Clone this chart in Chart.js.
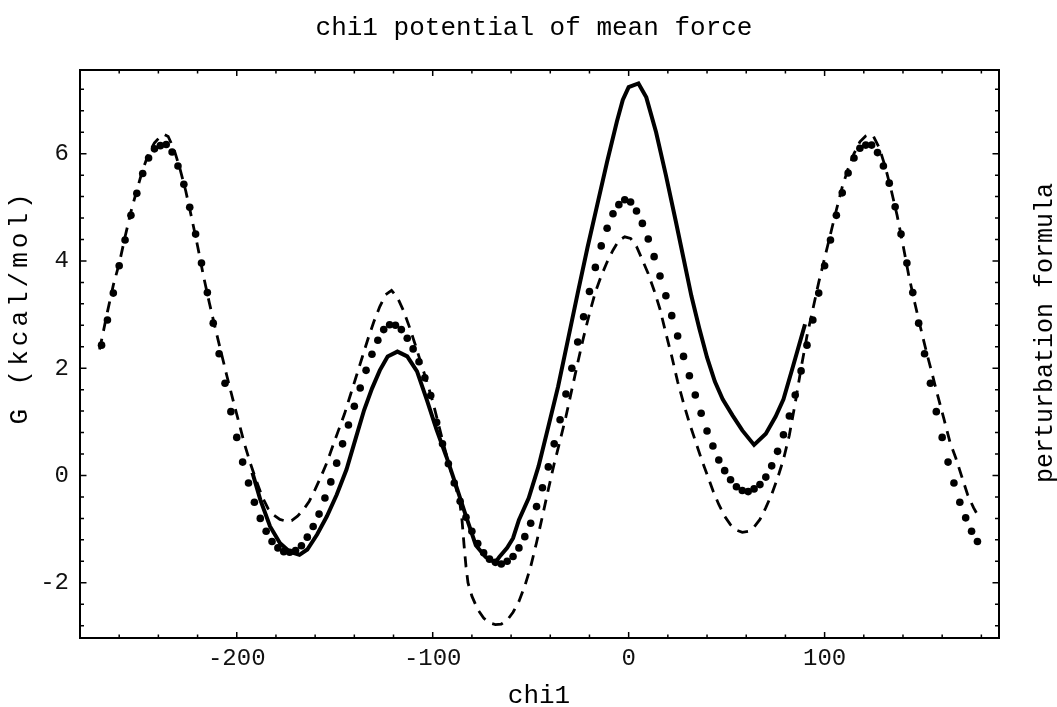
<!DOCTYPE html>
<html>
<head>
<meta charset="utf-8">
<script src="https://cdn.jsdelivr.net/npm/chart.js@4.4.1/dist/chart.umd.min.js"></script>
<style>
  html, body { margin: 0; padding: 0; background: #fff; }
</style>
</head>
<body>
<canvas id="pmfChart" width="1057" height="707"></canvas>
<script>
// perturbation formula (dots, every 3 degrees)
var dotChi = [-269,-266,-263,-260,-257,-254,-251,-248,-245,-242,-239,-236,-233,-230,-227,-224,-221,-218,-215,-212,
  -209,-206,-203,-200,-197,-194,-191,-188,-185,-182,-179,-176,-173,-170,-167,-164,-161,-158,-155,-152,
  -149,-146,-143,-140,-137,-134,-131,-128,-125,-122,-119,-116,-113,-110,-107,-104,-101,-98,-95,-92,
  -89,-86,-83,-80,-77,-74,-71,-68,-65,-62,-59,-56,-53,-50,-47,-44,-41,-38,-35,-32,
  -29,-26,-23,-20,-17,-14,-11,-8,-5,-2,1,4,7,10,13,16,19,22,25,28,
  31,34,37,40,43,46,49,52,55,58,61,64,67,70,73,76,79,82,85,88,
  91,94,97,100,103,106,109,112,115,118,121,124,127,130,133,136,139,142,145,148,
  151,154,157,160,163,166,169,172,175,178];
var dotG = [2.43,2.90,3.40,3.91,4.39,4.85,5.26,5.63,5.92,6.09,6.15,6.17,6.03,5.77,5.43,5.00,4.50,3.96,3.41,2.84,
  2.27,1.72,1.19,0.71,0.25,-0.14,-0.50,-0.80,-1.04,-1.23,-1.35,-1.42,-1.43,-1.40,-1.31,-1.15,-0.95,-0.72,-0.42,-0.12,
  0.23,0.59,0.94,1.29,1.63,1.96,2.26,2.52,2.72,2.81,2.80,2.72,2.56,2.36,2.12,1.82,1.49,0.99,0.59,0.22,
  -0.14,-0.48,-0.78,-1.04,-1.27,-1.44,-1.56,-1.62,-1.65,-1.60,-1.51,-1.35,-1.14,-0.89,-0.58,-0.23,0.16,0.59,1.04,1.52,
  2.00,2.49,2.96,3.43,3.88,4.28,4.61,4.88,5.05,5.14,5.10,4.93,4.70,4.41,4.08,3.72,3.35,2.98,2.60,2.22,
  1.86,1.50,1.16,0.83,0.55,0.29,0.09,-0.08,-0.21,-0.28,-0.30,-0.25,-0.17,-0.03,0.18,0.45,0.76,1.11,1.50,1.95,
  2.43,2.90,3.40,3.91,4.39,4.85,5.27,5.64,5.92,6.10,6.16,6.16,6.02,5.77,5.45,5.01,4.50,3.96,3.41,2.84,
  2.27,1.72,1.19,0.71,0.25,-0.14,-0.50,-0.79,-1.04,-1.23];

// dashed curve
var dashChi = [-270,-266,-263,-260,-257,-254,-251,-248,-245,-242,-239,-237,-235,-232,-229,-226,-223,-220,-217,-214,
  -211,-208,-205,-202,-199,-196,-193,-190,-187,-184,-181,-178,-175,-172,-169,-166,-163,-160,-157,-154,
  -151,-148,-145,-142,-139,-136,-133,-130,-127,-124,-121,-118,-115,-112,-109,-106,-103,-100,-97,-94,
  -91,-88,-86,-85,-84,-83,-82,-80,-77,-74,-71,-68,-65,-62,-59,-56,-53,-50,-47,-44,
  -41,-38,-35,-32,-29,-26,-23,-20,-17,-14,-11,-8,-5,-2,1,4,7,10,13,16,
  19,22,25,28,31,34,37,40,43,46,49,52,55,58,61,64,67,70,73,76,
  79,82,85,88,91,94,97,100,103,106,109,112,115,118,121,123,125,128,131,134,
  137,140,143,146,149,152,155,158,161,164,167,170,173,176,178];
var dashG = [2.35,3.05,3.55,3.95,4.45,4.92,5.32,5.70,6.00,6.20,6.32,6.36,6.32,6.08,5.72,5.30,4.80,4.28,3.72,3.22,
  2.75,2.30,1.85,1.42,1.00,0.58,0.22,-0.10,-0.40,-0.62,-0.74,-0.82,-0.85,-0.84,-0.76,-0.64,-0.48,-0.26,-0.02,0.24,
  0.55,0.85,1.15,1.50,1.85,2.20,2.55,2.87,3.15,3.37,3.45,3.32,3.08,2.78,2.45,2.10,1.75,1.38,0.95,0.52,
  0.12,-0.25,-0.55,-0.85,-1.30,-1.70,-2.00,-2.25,-2.50,-2.66,-2.75,-2.78,-2.77,-2.70,-2.55,-2.35,-2.06,-1.70,-1.25,-0.76,
  -0.26,0.22,0.65,1.10,1.60,2.10,2.58,3.02,3.42,3.72,3.98,4.20,4.38,4.45,4.42,4.27,4.02,3.76,3.45,3.10,
  2.65,2.22,1.75,1.35,0.98,0.65,0.32,0.02,-0.28,-0.54,-0.76,-0.92,-1.02,-1.06,-1.04,-0.96,-0.82,-0.60,-0.35,-0.05,
  0.30,0.75,1.35,2.00,2.60,3.10,3.60,4.05,4.50,4.95,5.38,5.72,6.00,6.22,6.33,6.36,6.32,6.10,5.75,5.32,
  4.85,4.30,3.72,3.22,2.75,2.30,1.88,1.45,1.04,0.62,0.32,-0.02,-0.36,-0.60,-0.73];

// solid curve
var solidChi = [-192,-188,-183,-178,-173,-168,-164,-159,-154,-149,-144,-139,-135,-131,-127,-123,-118,-113,-108,-103,
  -98,-93,-88,-83,-78,-73,-68,-66,-62,-59,-56,-51,-46,-41,-36,-31,-26,-21,-16,-11,
  -6,-3,0,5,9,14,19,24,28,32,36,40,44,48,53,58,64,70,75,79,84,90];
var solidG = [0.05,-0.45,-0.95,-1.26,-1.42,-1.48,-1.38,-1.10,-0.76,-0.36,0.11,0.73,1.22,1.62,1.96,2.22,2.31,2.22,1.94,1.41,
  0.85,0.35,-0.20,-0.76,-1.30,-1.52,-1.62,-1.52,-1.35,-1.17,-0.83,-0.42,0.17,0.91,1.66,2.53,3.40,4.25,5.05,5.85,
  6.60,7.00,7.24,7.31,7.05,6.40,5.60,4.75,4.05,3.35,2.75,2.20,1.75,1.42,1.12,0.84,0.57,0.78,1.10,1.42,2.05,2.82];

var xTickLabels = [-200, -100, 0, 100];
var yTickLabels = [-2, 0, 2, 4, 6];

function pairs(xs, ys) {
  return xs.map(function (x, i) { return { x: x, y: ys[i] }; });
}

var tickFont = { family: "Liberation Mono", size: 24 };

// frame with inward ticks on all four sides, plus the text labels
var framePlugin = {
  id: 'frame',
  afterDraw: function (chart) {
    var ctx = chart.ctx, a = chart.chartArea;
    var xs = chart.scales.x, ys = chart.scales.y;
    ctx.save();
    ctx.strokeStyle = '#000';
    ctx.lineWidth = 1.5;
    ctx.beginPath();
    for (var v = -280; v <= 180; v += 20) {
      var px = xs.getPixelForValue(v);
      var len = (v % 100 === 0) ? 6 : 3.5;
      ctx.moveTo(px, a.bottom); ctx.lineTo(px, a.bottom - len);
      ctx.moveTo(px, a.top); ctx.lineTo(px, a.top + len);
    }
    for (var k = -7; k <= 18; k++) {
      var py = ys.getPixelForValue(k * 0.4);
      var l2 = (k % 5 === 0) ? 6.5 : 4;
      ctx.moveTo(a.left, py); ctx.lineTo(a.left + l2, py);
      ctx.moveTo(a.right, py); ctx.lineTo(a.right - l2, py);
    }
    ctx.stroke();
    ctx.lineWidth = 2;
    ctx.strokeRect(a.left, a.top, a.right - a.left, a.bottom - a.top);

    ctx.fillStyle = '#000';
    ctx.font = '26px "Liberation Mono"';
    ctx.textAlign = 'center';
    ctx.textBaseline = 'alphabetic';
    ctx.fillText('chi1 potential of mean force', 534, 35);
    ctx.fillText('chi1', 539, 703);

    ctx.save();
    ctx.translate(27, 309);
    ctx.rotate(-Math.PI / 2);
    ctx.letterSpacing = '4px';
    ctx.fillText('G (kcal/mol)', 2, 0);
    ctx.restore();

    ctx.save();
    ctx.translate(1052, 333);
    ctx.rotate(-Math.PI / 2);
    ctx.font = '25px "Liberation Mono"';
    ctx.fillText('perturbation formula', 0, 0);
    ctx.restore();
    ctx.restore();
  }
};

new Chart(document.getElementById('pmfChart'), {
  type: 'line',
  data: {
    datasets: [{
      label: 'solid',
      data: pairs(solidChi, solidG),
      borderColor: '#000',
      borderWidth: 4,
      pointRadius: 0,
      fill: false,
      tension: 0
    }, {
      label: 'perturbation formula',
      data: pairs(dotChi, dotG),
      showLine: false,
      pointRadius: 3.8,
      pointBackgroundColor: '#000',
      pointBorderWidth: 0,
      borderColor: '#000'
    }, {
      label: 'dashed',
      data: pairs(dashChi, dashG),
      borderColor: '#000',
      borderWidth: 2.8,
      borderDash: [11, 8],
      pointRadius: 0,
      fill: false,
      tension: 0
    }]
  },
  options: {
    responsive: false,
    animation: false,
    layout: { padding: { top: 70, right: 58, left: 0, bottom: 0 } },
    plugins: { legend: { display: false }, tooltip: { enabled: false }, title: { display: false } },
    scales: {
      x: {
        type: 'linear',
        min: -280,
        max: 189,
        grid: { display: false, drawTicks: false },
        border: { display: false },
        ticks: { font: tickFont, color: '#111', padding: 6, maxRotation: 0, autoSkip: false },
        afterBuildTicks: function (s) { s.ticks = xTickLabels.map(function (v) { return { value: v }; }); },
        afterFit: function (s) { s.height = 69; }
      },
      y: {
        min: -3.03,
        max: 7.56,
        grid: { display: false, drawTicks: false },
        border: { display: false },
        ticks: { font: tickFont, color: '#111', padding: 11, autoSkip: false },
        afterBuildTicks: function (s) { s.ticks = yTickLabels.map(function (v) { return { value: v }; }); },
        afterFit: function (s) { s.width = 80; }
      }
    }
  },
  plugins: [framePlugin]
});
</script>
</body>
</html>
